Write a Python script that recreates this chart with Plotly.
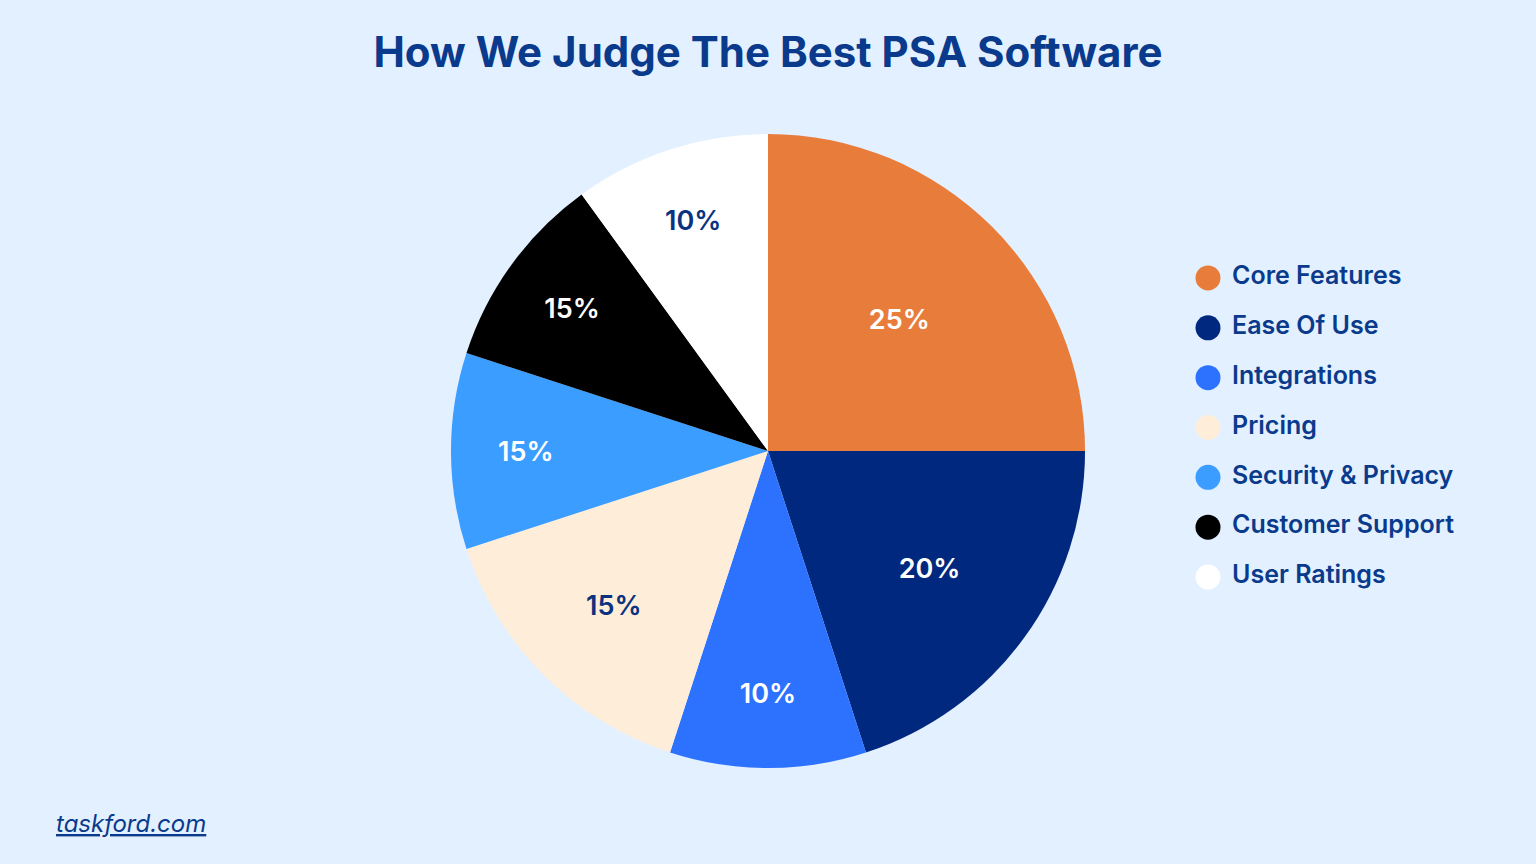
import plotly.graph_objects as go

categories = ["Core Features", "Ease Of Use", "Integrations", "Pricing",
              "Security & Privacy", "Customer Support", "User Ratings"]
# slice sizes as drawn in the picture
slice_values = [25, 20, 10, 15, 10, 10, 10]
# labels printed on the slices
slice_labels = ["25%", "20%", "10%", "15%", "15%", "15%", "10%"]
colors = ["#E87D3B", "#00287F", "#2C72FF", "#FEEDD8", "#3A9DFF", "#000000", "#FFFFFF"]
label_colors = ["#FFFFFF", "#FFFFFF", "#FFFFFF", "#0A327F", "#FFFFFF", "#FFFFFF", "#0A327F"]

NAVY = "#0A3A8C"
BG = "#E3F0FF"
FONT = "Inter"

fig = go.Figure()

fig.add_trace(go.Pie(
    labels=categories,
    values=slice_values,
    text=slice_labels,
    textinfo="text",
    textposition="inside",
    insidetextorientation="horizontal",
    textfont=dict(family=FONT, size=27, color=label_colors, weight=600),
    marker=dict(colors=colors, line=dict(width=0)),
    sort=False,
    direction="clockwise",
    rotation=0,
    showlegend=False,
    hoverinfo="label+text",
    domain=dict(x=[0.2936, 0.7064], y=[0.111, 0.845]),
))

# legend drawn as round markers + names on a hidden axis (plotly caps legend symbols at 16px)
idx = [-i for i in range(len(categories))]
fig.add_trace(go.Scatter(
    x=[28] * len(categories), y=idx, mode="markers",
    marker=dict(color=colors, size=25, line=dict(width=0)),
    hoverinfo="skip", showlegend=False, cliponaxis=False,
))
fig.add_trace(go.Scatter(
    x=[52] * len(categories), y=idx, mode="text", text=categories,
    textposition="middle right",
    textfont=dict(family=FONT, size=25, color=NAVY, weight=600),
    hoverinfo="skip", showlegend=False, cliponaxis=False,
))

fig.update_layout(
    width=1536, height=864,
    paper_bgcolor=BG, plot_bgcolor="rgba(0,0,0,0)",
    margin=dict(l=0, r=0, t=0, b=0),
    title=dict(text="How We Judge The Best PSA Software",
               x=0.5, xanchor="center", y=0.94, yanchor="middle",
               font=dict(family=FONT, size=42, color=NAVY, weight=700)),
    xaxis=dict(visible=False, domain=[1180 / 1536, 1480 / 1536], range=[0, 300],
               fixedrange=True),
    yaxis=dict(visible=False, domain=[1 - 602 / 864, 1 - 253 / 864], range=[-6.5, 0.5],
               fixedrange=True),
    annotations=[dict(text="<i><u>taskford.com</u></i>",
                      x=54 / 1536, y=1 - 823 / 864, xref="paper", yref="paper",
                      xanchor="left", yanchor="middle", showarrow=False,
                      font=dict(family=FONT, size=24, color=NAVY))],
)

fig.write_html("out.html", config={"displayModeBar": False},
               post_script="document.body.style.margin='0';")
